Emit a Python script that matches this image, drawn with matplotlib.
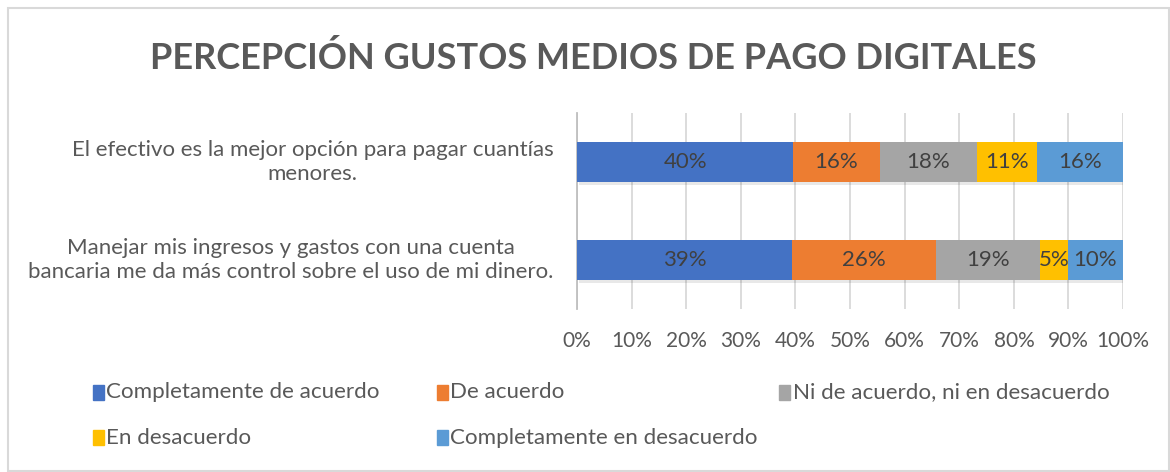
import matplotlib
matplotlib.use("Agg")
import matplotlib.pyplot as plt
import matplotlib.patheffects as pe
from matplotlib.patches import Rectangle
from matplotlib.ticker import PercentFormatter
import numpy as np

plt.rcParams['font.family'] = ['Lato', 'DejaVu Sans']

# categories, listed top to bottom
categories = [
    "El efectivo es la mejor opción para pagar cuantías\nmenores.",
    "Manejar mis ingresos y gastos con una cuenta\nbancaria me da más control sobre el uso de mi dinero.",
]
series_names = [
    "Completamente de acuerdo",
    "De acuerdo",
    "Ni de acuerdo, ni en desacuerdo",
    "En desacuerdo",
    "Completamente en desacuerdo",
]
completamente_de_acuerdo = [40, 39]
de_acuerdo = [16, 26]
ni_ni = [18, 19]
en_desacuerdo = [11, 5]
completamente_en_desacuerdo = [16, 10]
colors = ["#4472C4", "#ED7D31", "#A5A5A5", "#FFC000", "#5B9BD5"]

values = np.array([completamente_de_acuerdo, de_acuerdo, ni_ni,
                   en_desacuerdo, completamente_en_desacuerdo], dtype=float)
shares = values / values.sum(axis=0)  # 100% stacked

fig = plt.figure(figsize=(11.7, 4.72), dpi=100)
ax = fig.add_axes([0.4932, 0.3453, 0.4667, 0.4153])

y = np.arange(len(categories))
left = np.zeros(len(categories))
shadow = [pe.SimplePatchShadow(offset=(1.5, -2), shadow_rgbFace='#000000', alpha=0.09),
          pe.Normal()]
for i, name in enumerate(series_names):
    bars = ax.barh(y, shares[i], left=left, height=0.41, color=colors[i],
                   label=name, zorder=3)
    for b in bars:
        b.set_path_effects(shadow)
    for j in range(len(categories)):
        ax.text(left[j] + shares[i][j] / 2, y[j], f"{values[i][j]:.0f}%",
                ha='center', va='center', fontsize=16, color='#404040', zorder=4)
    left += shares[i]

ax.set_xlim(0, 1)
ax.set_ylim(len(categories) - 0.5, -0.5)
ax.set_yticks(y)
ax.set_yticklabels([])
# category labels: right aligned block, lines centred
for j, cat in enumerate(categories):
    ax.text(-0.043, y[j], cat, transform=ax.get_yaxis_transform(),
            ha='right', va='center', multialignment='center',
            fontsize=16, color='#595959', linespacing=1.25)
ax.xaxis.set_major_locator(plt.MultipleLocator(0.1))
ax.xaxis.set_major_formatter(PercentFormatter(1.0, decimals=0))
ax.tick_params(axis='x', labelsize=15, labelcolor='#595959', length=0, pad=16)
ax.tick_params(axis='y', length=0)
ax.grid(axis='x', color='#D9D9D9', linewidth=1.3, zorder=0)
for s in ['top', 'right', 'bottom']:
    ax.spines[s].set_visible(False)
ax.spines['left'].set_color('#BFBFBF')
ax.spines['left'].set_linewidth(1.3)

fig.text(0.507, 0.878, "PERCEPCIÓN GUSTOS MEDIOS DE PAGO DIGITALES",
         ha='center', va='center', fontsize=26, fontweight='bold', color='#595959')

# legend laid out in rows of three like the original
col_x = [0.0795, 0.3735, 0.666]
row_y = [0.169, 0.073]
for k, name in enumerate(series_names):
    r, c = divmod(k, 3)
    fig.patches.append(Rectangle((col_x[c], row_y[r] - 0.016), 0.0092, 0.032,
                                 transform=fig.transFigure, color=colors[k]))
    fig.text(col_x[c] + 0.0115, row_y[r], name, ha='left', va='center',
             fontsize=16.1, color='#595959')

# chart border
fig.patches.append(Rectangle((0.007, 0.002), 0.992, 0.981, transform=fig.transFigure,
                             fill=False, edgecolor='#D9D9D9', linewidth=1.5))

fig.savefig("out.png", dpi=100)
